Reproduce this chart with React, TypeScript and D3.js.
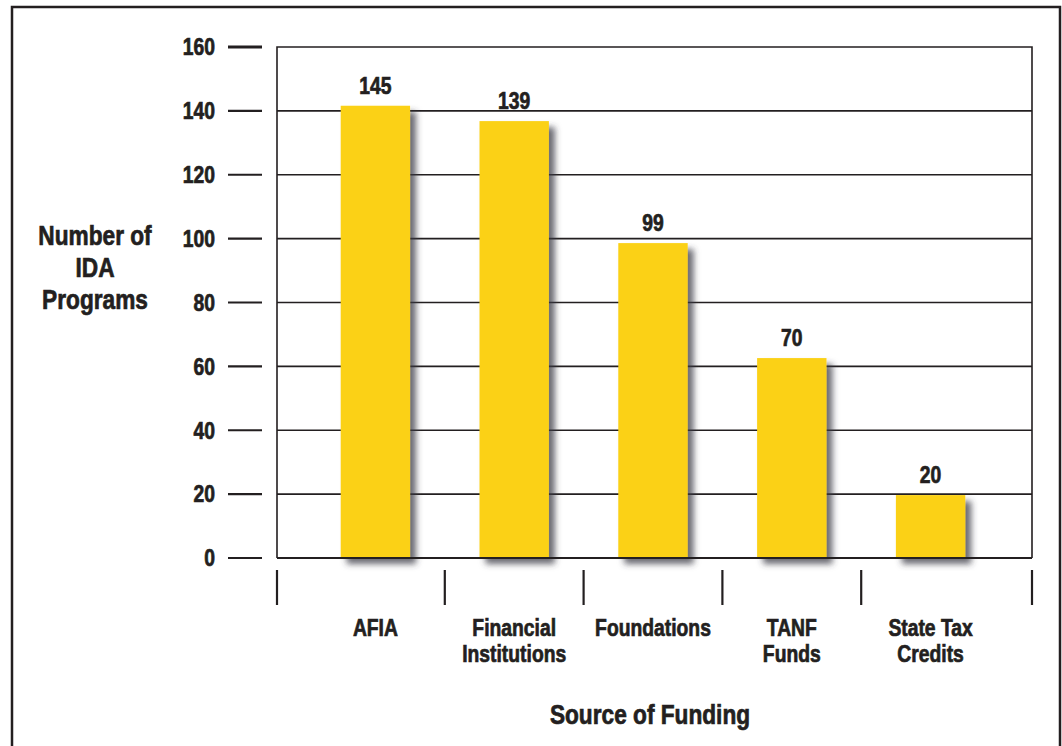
import * as d3 from "d3";

// data
const categories = ["AFIA", "Financial Institutions", "Foundations", "TANF Funds", "State Tax Credits"];
const categoryLines = [["AFIA"], ["Financial", "Institutions"], ["Foundations"], ["TANF", "Funds"], ["State Tax", "Credits"]];
// printed labels above each bar
const labelValues = [145, 139, 99, 70, 20];
// bar heights as drawn in the original (they do not quite match the printed labels)
const barValues = [141.6, 136.8, 98.6, 62.6, 19.7];
const yTicks = [0, 20, 40, 60, 80, 100, 120, 140, 160];
const yTitle = ["Number of", "IDA", "Programs"];
const xTitle = "Source of Funding";

const W = 1062,
  H = 746;
const plot = { left: 277, right: 1032, top: 47, bottom: 558 };
const font = "'Liberation Sans', Arial, sans-serif";
const ink = "#231f20";
const yellow = "#fbd116";
const narrow = 0.84; // squeeze to imitate a condensed face

// condensed heavy text, multi-line allowed
function T({ x, y, size, anchor = "middle", lines, lh = 0, dy = "0" }: any) {
  return (
    <g transform={`translate(${x},${y}) scale(${narrow},1)`}>
      <text
        textAnchor={anchor}
        fontFamily={font}
        fontWeight="bold"
        fontSize={size}
        fill={ink}
        stroke={ink}
        strokeWidth={0.7}
        dy={dy}
      >
        {lines.map((l: string, j: number) => (
          <tspan key={j} x={0} y={j * lh} dy={dy}>
            {l}
          </tspan>
        ))}
      </text>
    </g>
  );
}

export default function App() {
  const y = d3.scaleLinear().domain([0, 160]).range([plot.bottom, plot.top]);
  const x = d3.scaleBand().domain(categories).range([306, 1000]).paddingInner(0.5).paddingOuter(0.25);

  const centers = categories.map((c) => (x(c) as number) + x.bandwidth() / 2);
  // separator ticks under the axis: plot edges plus midpoints between bars
  const seps = [plot.left, ...d3.pairs(centers).map(([a, b]) => (a + b) / 2), plot.right];

  return (
    <svg width={W} height={H} style={{ position: "absolute", left: 0, top: 0, background: "#fff" }}>
      <defs>
        <filter id="shadow" x="-20%" y="-10%" width="150%" height="130%">
          <feDropShadow dx="6" dy="6" stdDeviation="3" floodColor="#3a3a44" floodOpacity="0.75" />
        </filter>
      </defs>

      {/* outer frame */}
      <rect x={12} y={7} width={1048} height={H + 20} fill="none" stroke={ink} strokeWidth={2.5} />

      {/* gridlines */}
      {yTicks.slice(1, -1).map((t) => (
        <line key={t} x1={plot.left} x2={plot.right} y1={y(t)} y2={y(t)} stroke={ink} strokeWidth={1.6} />
      ))}
      {/* plot frame */}
      <path
        d={`M${plot.left},${plot.bottom}V${plot.top}H${plot.right}V${plot.bottom}`}
        fill="none"
        stroke={ink}
        strokeWidth={1.6}
      />

      {/* bars */}
      {categories.map((c, i) => (
        <rect
          key={c}
          x={x(c)}
          y={y(barValues[i])}
          width={x.bandwidth()}
          height={y(0) - y(barValues[i])}
          fill={yellow}
          filter="url(#shadow)"
        />
      ))}

      {/* zero line */}
      <line x1={plot.left} x2={plot.right} y1={y(0)} y2={y(0)} stroke={ink} strokeWidth={2} />

      {/* value labels */}
      {categories.map((c, i) => (
        <T key={c} x={centers[i]} y={y(barValues[i]) - 12} size={23} lines={[String(labelValues[i])]} />
      ))}

      {/* y axis ticks */}
      {yTicks.map((t) => (
        <g key={t}>
          <line x1={228} x2={262} y1={y(t)} y2={y(t)} stroke={ink} strokeWidth={t === 160 ? 3 : 2.2} />
          <T x={215} y={y(t)} dy="0.36em" anchor="end" size={23} lines={[String(t)]} />
        </g>
      ))}

      {/* separators below */}
      {seps.map((s, i) => (
        <line key={i} x1={s} x2={s} y1={570} y2={605} stroke={ink} strokeWidth={2.2} />
      ))}

      {/* category labels */}
      {categories.map((c, i) => (
        <T key={c} x={centers[i]} y={636} size={23} lh={26} lines={categoryLines[i]} />
      ))}

      {/* axis titles */}
      <T x={95} y={245} size={27} lh={32} lines={yTitle} />
      <T x={650} y={724} size={27} lines={[xTitle]} />
    </svg>
  );
}
